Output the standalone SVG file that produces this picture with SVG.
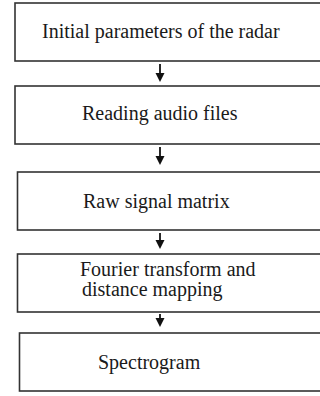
<svg xmlns="http://www.w3.org/2000/svg" width="320" height="396" viewBox="0 0 320 396">
<style>
.box{fill:#fff;stroke:#333;stroke-width:1.6}
.t{font-family:"Liberation Serif",serif;font-size:20px;fill:#1a1a1a}
.ln{stroke:#111;stroke-width:1.8;fill:none}
.hd{fill:#111}
</style>
<rect width="320" height="396" fill="#fff"/>
<g id="node1"><rect class="box" x="15" y="3" width="320" height="58"/><text class="t" x="42" y="38">Initial parameters of the radar</text></g>
<g id="node2"><rect class="box" x="15" y="86" width="320" height="58"/><text class="t" x="82" y="120">Reading audio files</text></g>
<g id="node3"><rect class="box" x="17.5" y="172" width="320" height="58"/><text class="t" x="83" y="208">Raw signal matrix</text></g>
<g id="node4"><rect class="box" x="17.5" y="254" width="320" height="58"/><text class="t" x="80" y="276">Fourier transform and</text><text class="t" x="82" y="296">distance mapping</text></g>
<g id="node5"><rect class="box" x="19.5" y="333" width="320" height="58"/><text class="t" x="98" y="369">Spectrogram</text></g>
<g id="connectors">
<line class="ln" x1="160" y1="64" x2="160" y2="74"/><polygon class="hd" points="155.5,73 164.5,73 160,82"/>
<line class="ln" x1="160" y1="147" x2="160" y2="157"/><polygon class="hd" points="155.5,156 164.5,156 160,165"/>
<line class="ln" x1="160" y1="233" x2="160" y2="241"/><polygon class="hd" points="155.5,240 164.5,240 160,249"/>
<line class="ln" x1="160" y1="314" x2="160" y2="319"/><polygon class="hd" points="155.5,318 164.5,318 160,327"/>
</g>
</svg>
